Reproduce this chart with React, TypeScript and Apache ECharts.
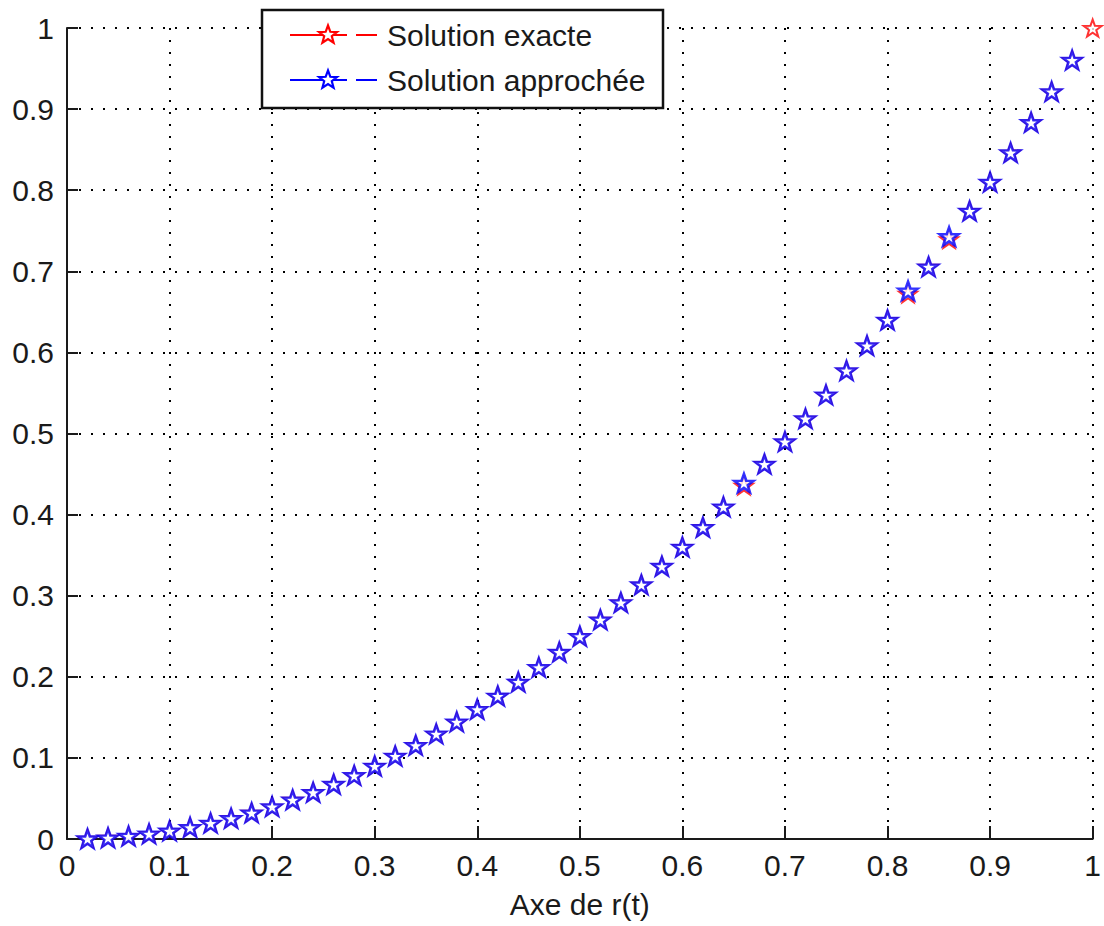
import React, { useEffect, useRef } from "react";
import * as echarts from "echarts";

// x positions (r)
const xValues = [
  0.02, 0.04, 0.06, 0.08, 0.1, 0.12, 0.14, 0.16, 0.18, 0.2,
  0.22, 0.24, 0.26, 0.28, 0.3, 0.32, 0.34, 0.36, 0.38, 0.4,
  0.42, 0.44, 0.46, 0.48, 0.5, 0.52, 0.54, 0.56, 0.58, 0.6,
  0.62, 0.64, 0.66, 0.68, 0.7, 0.72, 0.74, 0.76, 0.78, 0.8,
  0.82, 0.84, 0.86, 0.88, 0.9, 0.92, 0.94, 0.96, 0.98, 1.0,
];

// Solution exacte (red)
const exactValues = [
  0.0004, 0.0016, 0.0036, 0.0064, 0.01, 0.0144, 0.0196, 0.0256, 0.0324, 0.04,
  0.0484, 0.0576, 0.0676, 0.0784, 0.09, 0.1024, 0.1156, 0.1296, 0.1444, 0.16,
  0.1764, 0.1936, 0.2116, 0.2304, 0.25, 0.2704, 0.2916, 0.3136, 0.3364, 0.36,
  0.3844, 0.4096, 0.4356, 0.4624, 0.49, 0.5184, 0.5476, 0.5776, 0.6084, 0.64,
  0.6724, 0.7056, 0.7396, 0.7744, 0.81, 0.8464, 0.8836, 0.9216, 0.9604, 1.0,
];

// Solution approchée (blue), x = 0.02 .. 0.98
const approxValues = [
  0.0004, 0.0016, 0.0036, 0.0064, 0.01, 0.0144, 0.0196, 0.0256, 0.0324, 0.04,
  0.0484, 0.0576, 0.0676, 0.0784, 0.09, 0.1024, 0.1156, 0.1296, 0.1444, 0.16,
  0.1764, 0.1936, 0.2116, 0.2304, 0.25, 0.2704, 0.2916, 0.3136, 0.3364, 0.36,
  0.3844, 0.4096, 0.439, 0.4624, 0.49, 0.5184, 0.5476, 0.5776, 0.6084, 0.64,
  0.676, 0.7056, 0.743, 0.7744, 0.81, 0.8464, 0.8836, 0.9216, 0.9604,
];

const seriesNames = ["Solution exacte", "Solution approchée"];
const seriesColors = ["#ff0000", "#0000ff"];
const xAxisName = "Axe de r(t)";

const STAR_PATH =
  "path://M10 0 L12.351 6.764 L19.511 6.910 L13.804 11.236 L15.878 18.090 L10 14 L4.122 18.090 L6.196 11.236 L0.489 6.910 L7.649 6.764 Z";

const FONT = "'Liberation Sans', Arial, Helvetica, sans-serif";
const TEXT_COLOR = "#1a1a1a";

function starPoints(cx: number, cy: number, r: number, ri: number): number[][] {
  const pts: number[][] = [];
  for (let i = 0; i < 10; i++) {
    const a = (-90 + i * 36) * (Math.PI / 180);
    const rr = i % 2 === 0 ? r : ri;
    pts.push([cx + rr * Math.cos(a), cy + rr * Math.sin(a)]);
  }
  return pts;
}

export default function App() {
  const ref = useRef<HTMLDivElement>(null);

  useEffect(() => {
    if (!ref.current) return;
    const chart = echarts.init(ref.current, undefined, { renderer: "svg" });

    const exactData = xValues.map((x, i) => [x, exactValues[i]]);
    const approxData = approxValues.map((y, i) => [xValues[i], y]);

    const legendRows = [35, 80];
    const legendGraphics: any[] = [
      {
        type: "rect",
        shape: { x: 262, y: 10, width: 401, height: 98 },
        style: { fill: "#ffffff", stroke: "#111", lineWidth: 2.5 },
        z: 100,
      },
    ];
    seriesNames.forEach((name, i) => {
      const y = legendRows[i];
      legendGraphics.push(
        {
          type: "line",
          shape: { x1: 290, y1: y, x2: 347, y2: y },
          style: { stroke: seriesColors[i], lineWidth: 2 },
          z: 101,
        },
        {
          type: "line",
          shape: { x1: 356, y1: y, x2: 377, y2: y },
          style: { stroke: seriesColors[i], lineWidth: 2 },
          z: 101,
        },
        {
          type: "polygon",
          shape: { points: starPoints(328, y, 9.5, 4) },
          style: { fill: "#ffffff", stroke: seriesColors[i], lineWidth: 2.2 },
          z: 102,
        },
        {
          type: "text",
          x: 387,
          y: y,
          style: {
            text: name,
            fill: TEXT_COLOR,
            font: `30px ${FONT}`,
            textVerticalAlign: "middle",
            verticalAlign: "middle",
          },
          z: 102,
        }
      );
    });

    const gridLine = {
      show: true,
      lineStyle: { color: "#000", width: 2, type: [2, 10] as any },
    };

    chart.setOption({
      animation: false,
      backgroundColor: "#ffffff",
      grid: { left: 67, right: 6, top: 28, bottom: 87, containLabel: false },
      xAxis: {
        type: "value",
        min: 0,
        max: 1,
        interval: 0.1,
        name: xAxisName,
        nameLocation: "middle",
        nameGap: 50,
        nameTextStyle: { fontFamily: FONT, fontSize: 30, color: TEXT_COLOR },
        axisLine: { show: true, onZero: false, lineStyle: { color: "#1a1a1a", width: 2 } },
        axisTick: { show: true, inside: true, length: 13, lineStyle: { color: "#1a1a1a", width: 2 } },
        axisLabel: {
          margin: 11,
          fontFamily: FONT,
          fontSize: 30,
          color: TEXT_COLOR,
          formatter: (v: number) => String(Math.round(v * 10) / 10),
        },
        splitLine: gridLine,
      },
      yAxis: {
        type: "value",
        min: 0,
        max: 1,
        interval: 0.1,
        axisLine: { show: true, onZero: false, lineStyle: { color: "#1a1a1a", width: 2 } },
        axisTick: { show: true, inside: true, length: 11, lineStyle: { color: "#1a1a1a", width: 2 } },
        axisLabel: {
          margin: 13,
          fontFamily: FONT,
          fontSize: 30,
          color: TEXT_COLOR,
          formatter: (v: number) => String(Math.round(v * 10) / 10),
        },
        splitLine: gridLine,
      },
      series: [
        {
          name: seriesNames[0],
          type: "scatter",
          data: exactData,
          symbol: STAR_PATH,
          symbolSize: [18, 17],
          itemStyle: { color: "#ffffff", borderColor: seriesColors[0], borderWidth: 2 },
          z: 3,
        },
        {
          name: seriesNames[1],
          type: "scatter",
          data: approxData,
          symbol: STAR_PATH,
          symbolSize: [19, 18],
          itemStyle: { color: "#ffffff", borderColor: seriesColors[1], borderWidth: 2.6 },
          z: 4,
        },
      ],
      graphic: legendGraphics,
    });

    return () => chart.dispose();
  }, []);

  return (
    <div
      ref={ref}
      style={{ position: "fixed", left: 0, top: 0, width: 1104, height: 926, background: "#fff" }}
    />
  );
}
